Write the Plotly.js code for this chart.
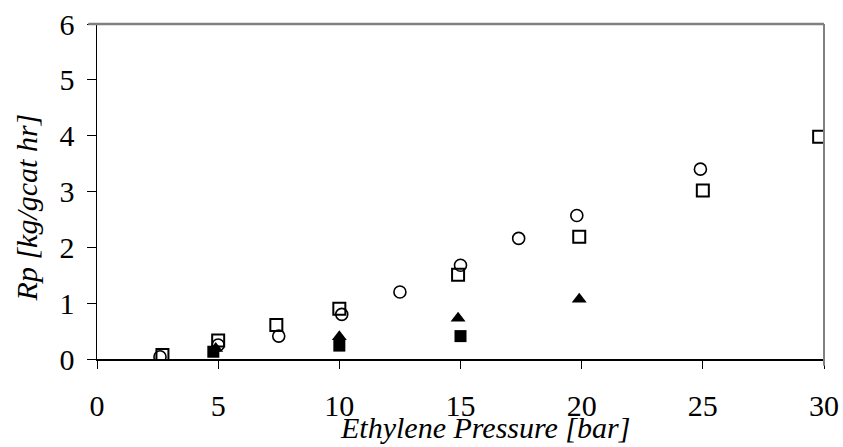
<!DOCTYPE html>
<html>
<head>
<meta charset="utf-8">
<script src="https://cdn.plot.ly/plotly-3.0.1.min.js"></script>
<style>html,body{margin:0;padding:0;background:#fff;}#chart{width:843px;height:447px;}</style>
</head>
<body>
<div id="chart"></div>
<script>
// Open circles
const circleX = [2.6, 5.0, 7.5, 10.1, 12.5, 15.0, 17.4, 19.8, 24.9];
const circleY = [0.04, 0.25, 0.41, 0.80, 1.20, 1.68, 2.16, 2.57, 3.40];
// Open squares
const squareX = [2.7, 5.0, 7.4, 10.0, 14.9, 19.9, 25.0, 29.8];
const squareY = [0.07, 0.33, 0.61, 0.90, 1.51, 2.19, 3.02, 3.98];
// Filled triangles
const triX = [4.9, 10.0, 14.9, 19.9];
const triY = [0.19, 0.40, 0.73, 1.07];
// Filled squares
const fsqX = [4.8, 10.0, 15.0];
const fsqY = [0.13, 0.24, 0.41];

const xTicks = [0, 5, 10, 15, 20, 25, 30];
const yTicks = [0, 1, 2, 3, 4, 5, 6];

const xTitle = 'Ethylene Pressure [bar]';
const yTitle = 'Rp [kg/gcat hr]';

const serif = 'Times New Roman, Liberation Serif, DejaVu Serif, serif';

const traces = [
  {x: fsqX, y: fsqY, type: 'scatter', mode: 'markers', name: 'filled square',
   marker: {symbol: 'square', size: 12, color: '#000'}},
  {x: triX, y: triY, type: 'scatter', mode: 'markers', name: 'filled triangle',
   marker: {symbol: 'triangle-up', size: 13, color: '#000'}},
  {x: squareX, y: squareY, type: 'scatter', mode: 'markers', name: 'open square',
   marker: {symbol: 'square-open', size: 12, color: '#000', line: {width: 2, color: '#000'}}},
  {x: circleX, y: circleY, type: 'scatter', mode: 'markers', name: 'open circle',
   marker: {symbol: 'circle-open', size: 12, color: '#000', line: {width: 1.6, color: '#000'}}}
];

const layout = {
  width: 843, height: 447,
  margin: {l: 97, r: 19, t: 24, b: 88},
  paper_bgcolor: '#fff', plot_bgcolor: '#fff',
  showlegend: false,
  font: {family: serif, color: '#000', size: 30},
  xaxis: {
    range: [0, 30], tickvals: xTicks, ticktext: xTicks.map(String),
    showgrid: false, zeroline: false,
    showline: true, linecolor: '#000', linewidth: 1.5,
    ticks: 'outside', ticklen: 8, tickcolor: '#000', tickwidth: 1,
    ticklabelstandoff: 11,
    tickfont: {family: serif, size: 30, color: '#000'}
  },
  yaxis: {
    range: [0, 6], tickvals: yTicks, ticktext: yTicks.map(String),
    showgrid: false, zeroline: false,
    showline: true, linecolor: '#000', linewidth: 1.5,
    ticks: 'outside', ticklen: 9, tickcolor: '#000', tickwidth: 1,
    ticklabelstandoff: 6,
    tickfont: {family: serif, size: 30, color: '#000'}
  },
  annotations: [
    {text: '<i>' + xTitle + '</i>', xref: 'paper', yref: 'paper', x: 0.534, y: -0.15,
     xanchor: 'center', yanchor: 'top', showarrow: false,
     font: {family: serif, size: 30, color: '#000'}},
    {text: '<i>' + yTitle + '</i>', xref: 'paper', yref: 'paper', x: -0.097, y: 0.454,
     xanchor: 'center', yanchor: 'middle', showarrow: false, textangle: -90,
     font: {family: serif, size: 30, color: '#000'}}
  ],
  shapes: [
    {type: 'line', xref: 'paper', yref: 'paper', x0: -0.012, x1: 1, y0: 1, y1: 1,
     line: {color: '#808080', width: 2.5}},
    {type: 'line', xref: 'paper', yref: 'paper', x0: 1, x1: 1, y0: -0.02, y1: 1,
     line: {color: '#808080', width: 2}}
  ]
};

Plotly.newPlot('chart', traces, layout, {staticPlot: true, displayModeBar: false});
</script>
</body>
</html>
